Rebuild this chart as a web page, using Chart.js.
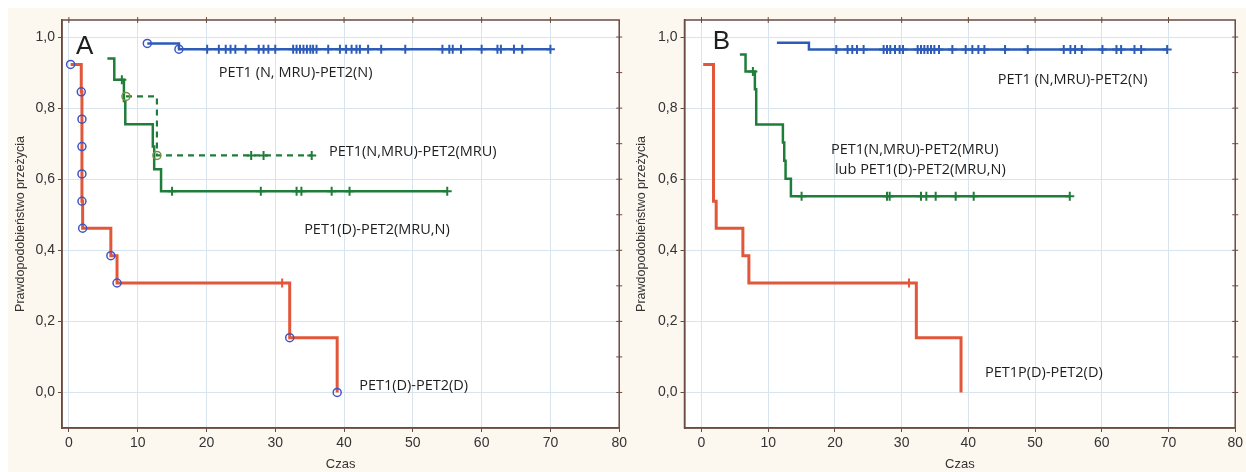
<!DOCTYPE html>
<html>
<head>
<meta charset="utf-8">
<script src="https://cdn.jsdelivr.net/npm/chart.js@4.4.1/dist/chart.umd.min.js"></script>
<style>
  html, body { margin: 0; padding: 0; background: #fff; }
  #wrap { position: relative; width: 1246px; height: 472px; overflow: hidden; }
  #bg { position: absolute; left: 8px; top: 8px; right: 0; bottom: 0; background: #fcf8ef; }
  canvas { position: absolute; top: 0; }
  #chartA { left: 0; }
  #chartB { left: 630px; }
</style>
</head>
<body>
<div id="wrap">
  <div id="bg"></div>
  <canvas id="chartA" width="630" height="472"></canvas>
  <canvas id="chartB" width="616" height="472"></canvas>
</div>
<script>
// osie
const xTicks = [0, 10, 20, 30, 40, 50, 60, 70, 80];
const yTicks = [0, 0.2, 0.4, 0.6, 0.8, 1.0];
const rightTicks = [0, 0.1, 0.2, 0.3, 0.4, 0.5, 0.6, 0.7, 0.8, 0.9, 1.0];

// --- panel A ---
const aRedT = [0.25, 1.8, 1.9, 1.9, 1.9, 1.9, 2.0, 6.1, 7.0, 32.1, 39.0];
const aRedS = [0.923, 0.846, 0.769, 0.692, 0.615, 0.538, 0.462, 0.385, 0.308, 0.154, 0.0];
const aRedCens = [31.0];

const aBlueT = [11.4, 16.0, 70.0];
const aBlueS = [0.982, 0.966, 0.966];
const aBlueCens = [20.1, 21.8, 22.8, 23.5, 24.2, 25.7, 27.6, 28.3, 29.0, 30.0, 32.6, 33.1, 33.6, 34.1,
  34.6, 35.1, 35.5, 36.0, 37.7, 39.4, 40.3, 41.1, 41.8, 42.3, 43.5, 45.4, 48.9, 54.3, 55.3, 55.8,
  57.0, 60.0, 62.3, 62.8, 64.7, 65.9, 70.0];

const aGreenT = [5.6, 6.6, 8.0, 8.2, 12.2, 12.4, 13.4, 55.0];
const aGreenS = [0.94, 0.88, 0.82, 0.755, 0.692, 0.628, 0.566, 0.566];
const aGreenCens = [7.7, 15.0, 27.9, 33.1, 33.8, 38.2, 40.8, 55.0];

const aDashT = [8.3, 12.8, 35.3];
const aDashS = [0.833, 0.667, 0.667];
const aDashCens = [26.5, 28.3, 35.3];

// --- panel B ---
const bRedT = [0.25, 1.8, 1.8, 1.8, 1.8, 1.8, 2.2, 6.2, 7.1, 32.2, 38.9];
const bRedS = [0.923, 0.846, 0.769, 0.692, 0.615, 0.538, 0.462, 0.385, 0.308, 0.154, 0.0];
const bRedCens = [31.1];

const bBlueT = [11.3, 16.1, 69.8];
const bBlueS = [0.984, 0.965, 0.965];
const bBlueCens = [20.2, 21.9, 22.6, 23.3, 24.3, 27.3, 27.8, 28.3, 29.0, 29.7, 30.2, 32.4, 32.9, 33.4,
  33.9, 34.4, 34.9, 35.6, 37.6, 39.6, 40.6, 41.5, 42.4, 45.5, 48.9, 54.3, 55.3, 56.0, 57.0, 60.1,
  62.2, 62.9, 64.9, 65.9, 69.8];

const bGreenT = [5.75, 6.6, 8.0, 8.2, 12.2, 12.4, 12.6, 13.4, 55.2];
const bGreenS = [0.951, 0.903, 0.853, 0.754, 0.703, 0.652, 0.601, 0.552, 0.552];
const bGreenCens = [7.7, 15.0, 27.8, 28.2, 32.9, 33.7, 35.1, 38.1, 40.8, 55.2];

const RED = "#e2573a";
const BLUE = "#2d5cb8";
const GREEN = "#1f7d3a";
const CIRCLE = "#3e56c4";
const GRID = "#d9e5ee";
const AXIS = "#6a4b42";
const TXT = "#333333";

const pts = (t, s) => t.map((v, i) => ({ x: v, y: s[i] }));

// wartość krzywej K-M w chwili t (dla znaczników obserwacji uciętych)
function survAt(t, s, x) {
  let y = s[0];
  for (let i = 0; i < t.length; i++) if (t[i] <= x) y = s[i];
  return y;
}
const cens = (t, s, c) => c.map(x => ({ x, y: survAt(t, s, x) }));

function curve(t, s, color, width, circles, dash) {
  return {
    type: "line",
    data: pts(t, s),
    stepped: "before",
    borderColor: color,
    borderWidth: width,
    borderDash: dash || [],
    fill: false,
    pointRadius: circles ? circles : 0,
    pointStyle: "circle",
    pointBorderColor: dash ? "#6f9440" : CIRCLE,
    pointBackgroundColor: "rgba(255,255,255,0)",
    pointBorderWidth: 1.5,
  };
}

function marks(t, s, c, color) {
  return {
    type: "line",
    showLine: false,
    data: cens(t, s, c),
    pointStyle: "cross",
    pointRadius: 4.5,
    pointBorderWidth: 2,
    pointBorderColor: color,
    borderColor: color,
  };
}

const plotBg = {
  id: "plotBg",
  beforeDraw(chart) {
    const { ctx, chartArea: a } = chart;
    ctx.save();
    ctx.fillStyle = "#ffffff";
    ctx.fillRect(a.left, a.top, a.right - a.left, a.bottom - a.top);
    ctx.restore();
  }
};

const frame = {
  id: "frame",
  afterDraw(chart) {
    const { ctx, chartArea: a, scales } = chart;
    ctx.save();
    ctx.strokeStyle = AXIS;
    ctx.lineWidth = 1.5;
    ctx.strokeRect(a.left, a.top, a.right - a.left, a.bottom - a.top);
    ctx.lineWidth = 1;
    ctx.beginPath();
    xTicks.forEach(v => {
      const px = scales.x.getPixelForValue(v);
      if (px > a.left + 2 && px < a.right - 2) { ctx.moveTo(px, a.top - 3); ctx.lineTo(px, a.top + 3); }
    });
    rightTicks.forEach(v => {
      const py = scales.y.getPixelForValue(v);
      ctx.moveTo(a.right - 3, py); ctx.lineTo(a.right + 3, py);
    });
    ctx.stroke();
    // napisy na wykresie
    (chart.options.plugins.frame.labels || []).forEach(l => {
      ctx.font = l.font;
      ctx.fillStyle = "#1e1e1e";
      ctx.textAlign = l.align || "left";
      ctx.textBaseline = "middle";
      ctx.fillText(l.text, scales.x.getPixelForValue(l.x), scales.y.getPixelForValue(l.y));
    });
    ctx.restore();
  }
};

const fmt = v => v.toFixed(1).replace(".", ",");

function makePanel(id, xMin, yWidth, padRight, titlePad, datasets, labels) {
  return new Chart(document.getElementById(id), {
    type: "line",
    data: { datasets },
    options: {
      responsive: false,
      animation: false,
      events: [],
      layout: { padding: { top: 20, right: padRight, left: 0, bottom: 0 } },
      scales: {
        x: {
          type: "linear", min: xMin, max: 80,
          afterBuildTicks: s => { s.ticks = xTicks.map(v => ({ value: v })); },
          afterFit: s => { s.height = 44; },
          grid: { color: GRID, tickColor: AXIS, tickLength: 4 },
          border: { color: AXIS, width: 1.5 },
          ticks: { color: TXT, padding: 3, maxRotation: 0, autoSkip: false,
            font: { family: "Liberation Sans", size: 14 } },
          title: { display: true, text: "Czas", color: TXT, padding: 0,
            font: { family: "Liberation Sans", size: 13 } }
        },
        y: {
          type: "linear", min: -0.1, max: 1.048,
          afterBuildTicks: s => { s.ticks = yTicks.map(v => ({ value: v })); },
          afterFit: s => { s.width = yWidth; },
          grid: { color: GRID, tickColor: AXIS, tickLength: 4 },
          border: { color: AXIS, width: 1.5 },
          ticks: { color: TXT, padding: 3, callback: v => fmt(v),
            font: { family: "Liberation Sans", size: 14 } },
          title: { display: true, text: "Prawdopodobieństwo przeżycia", color: TXT,
            padding: { top: titlePad, bottom: 0 },
            font: { family: "Liberation Sans", size: 12.5 } }
        }
      },
      plugins: {
        legend: { display: false },
        tooltip: { enabled: false },
        frame: { labels }
      }
    },
    plugins: [plotBg, frame]
  });
}

const LBL = "14.5px 'Open Sans'";

makePanel("chartA", -1, 62, 7, 13, [
  marks(aBlueT, aBlueS, aBlueCens, BLUE),
  marks(aGreenT, aGreenS, aGreenCens, GREEN),
  marks(aDashT, aDashS, aDashCens, GREEN),
  marks(aRedT, aRedS, aRedCens, RED),
  curve(aBlueT, aBlueS, BLUE, 2.5, [4, 4, 0]),
  curve(aDashT, aDashS, GREEN, 2.2, [4, 4, 0], [6, 5]),
  curve(aGreenT, aGreenS, GREEN, 2.5, 0),
  curve(aRedT, aRedS, RED, 3, 4),
], [
  { text: "A", x: 2.3, y: 0.972, font: "26px 'Liberation Sans'", align: "center" },
  { text: "PET1 (N, MRU)-PET2(N)", x: 21.8, y: 0.898, font: LBL },
  { text: "PET1(N,MRU)-PET2(MRU)", x: 37.8, y: 0.678, font: LBL },
  { text: "PET1(D)-PET2(MRU,N)", x: 34.2, y: 0.458, font: LBL },
  { text: "PET1(D)-PET2(D)", x: 42.2, y: 0.019, font: LBL },
]);

makePanel("chartB", -2.55, 54.5, 2, 4.5, [
  marks(bBlueT, bBlueS, bBlueCens, BLUE),
  marks(bGreenT, bGreenS, bGreenCens, GREEN),
  marks(bRedT, bRedS, bRedCens, RED),
  curve(bBlueT, bBlueS, BLUE, 2.5, 0),
  curve(bGreenT, bGreenS, GREEN, 2.5, 0),
  curve(bRedT, bRedS, RED, 3, 0),
], [
  { text: "B", x: 3.0, y: 0.986, font: "26px 'Liberation Sans'", align: "center" },
  { text: "PET1 (N,MRU)-PET2(N)", x: 44.4, y: 0.879, font: LBL },
  { text: "PET1(N,MRU)-PET2(MRU)", x: 19.4, y: 0.683, font: LBL },
  { text: "lub PET1(D)-PET2(MRU,N)", x: 20.0, y: 0.627, font: LBL },
  { text: "PET1P(D)-PET2(D)", x: 42.5, y: 0.054, font: LBL },
]);
</script>
</body>
</html>
